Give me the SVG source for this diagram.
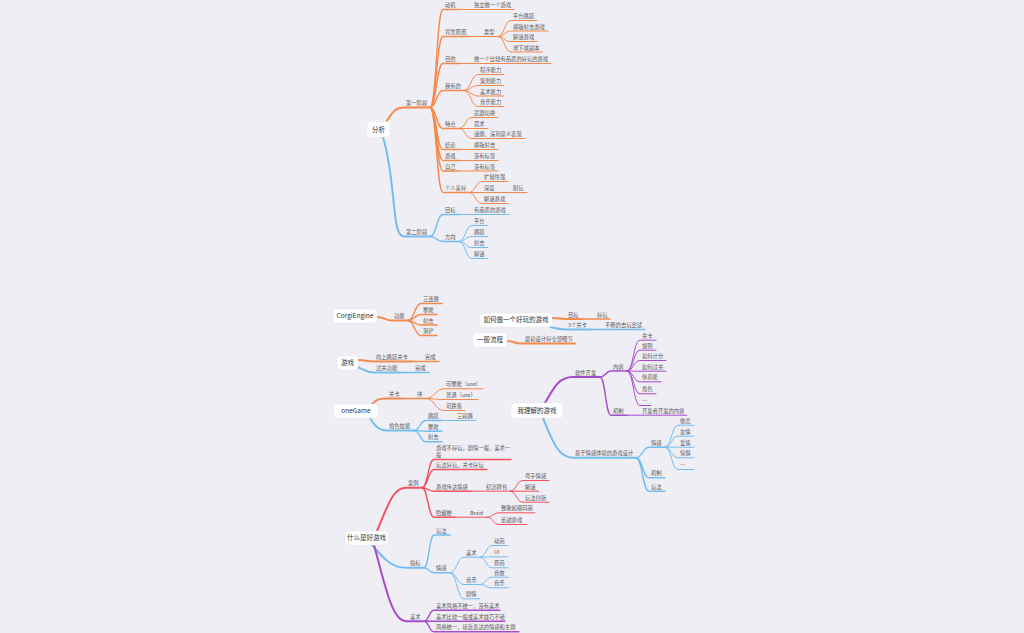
<svg xmlns="http://www.w3.org/2000/svg" width="1024" height="633" viewBox="0 0 1024 633">
<style>
path{fill:none;stroke-linecap:round;stroke-linejoin:round}
.o{stroke:#f5894b}.b{stroke:#72bdf0}.p{stroke:#a44ccb}.r{stroke:#f2535f}
.w1{stroke-width:2}.w2{stroke-width:1.4}.w3{stroke-width:1}
text{font-family:"Noto Sans CJK SC","Noto Sans",sans-serif;font-size:5.3px;fill:#555}
text.n{font-size:6.5px;fill:#333;text-anchor:middle}
rect.box{fill:#fff;stroke:#e4e2ea;stroke-width:0.5}
</style>
<rect width="1024" height="633" fill="#f0eef5"/>
<g id="connectors">
<path class="o w1" d="M386 122C394 110 396 107.5 404 107.5H430"/>
<path class="o w2" d="M430 107.5C436.5 107.5 436.5 9.5 443 9.5H459"/>
<path class="o w2" d="M430 107.5C436.5 107.5 436.5 36.5 443 36.5H469"/>
<path class="o w2" d="M430 107.5C436.5 107.5 436.5 63.5 443 63.5H459"/>
<path class="o w2" d="M430 107.5C436.5 107.5 436.5 90.5 443 90.5H464"/>
<path class="o w2" d="M430 107.5C436.5 107.5 436.5 128.5 443 128.5H459"/>
<path class="o w2" d="M430 107.5C436.5 107.5 436.5 149.5 443 149.5H459"/>
<path class="o w2" d="M430 107.5C436.5 107.5 436.5 160.5 443 160.5H459"/>
<path class="o w2" d="M430 107.5C436.5 107.5 436.5 171 443 171H459"/>
<path class="o w2" d="M430 107.5C436.5 107.5 436.5 192.5 443 192.5H469"/>
<path class="o w3" d="M459 9.5H514"/>
<path class="o w3" d="M469 36.5H498"/>
<path class="o w3" d="M498 36.5C504.5 36.5 504.5 20.5 511 20.5H537"/>
<path class="o w3" d="M498 36.5C504.5 36.5 504.5 31 511 31H548"/>
<path class="o w3" d="M498 36.5C504.5 36.5 504.5 41.5 511 41.5H537"/>
<path class="o w3" d="M498 36.5C504.5 36.5 504.5 52 511 52H542.5"/>
<path class="o w3" d="M459 63.5H551"/>
<path class="o w3" d="M464 90.5C471 90.5 471 74.5 478 74.5H504"/>
<path class="o w3" d="M464 90.5C471 90.5 471 85.5 478 85.5H504"/>
<path class="o w3" d="M464 90.5C471 90.5 471 96 478 96H504"/>
<path class="o w3" d="M464 90.5C471 90.5 471 106.5 478 106.5H504"/>
<path class="o w3" d="M459 128.5C465.5 128.5 465.5 117.5 472 117.5H498"/>
<path class="o w3" d="M459 128.5H488"/>
<path class="o w3" d="M459 128.5C465.5 128.5 465.5 138.5 472 138.5H525"/>
<path class="o w3" d="M459 149.5H498"/>
<path class="o w3" d="M459 160.5H498"/>
<path class="o w3" d="M459 171H498"/>
<path class="o w3" d="M469 192.5C475.5 192.5 475.5 181.5 482 181.5H508"/>
<path class="o w3" d="M469 192.5H527"/>
<path class="o w3" d="M469 192.5C475.5 192.5 475.5 203.5 482 203.5H508"/>
<path class="b w1" d="M383 137C397 185 391 236.5 404 236.5H430"/>
<path class="b w2" d="M430 236.5C436.5 236.5 436.5 214.5 443 214.5H459"/>
<path class="b w2" d="M430 236.5C436.5 236.5 436.5 241.5 443 241.5H459"/>
<path class="b w3" d="M459 214.5H509"/>
<path class="b w3" d="M459 241.5C465.5 241.5 465.5 225.5 472 225.5H488"/>
<path class="b w3" d="M459 241.5C465.5 241.5 465.5 236.5 472 236.5H488"/>
<path class="b w3" d="M459 241.5C465.5 241.5 465.5 247.5 472 247.5H488"/>
<path class="b w3" d="M459 241.5C465.5 241.5 465.5 258.5 472 258.5H488"/>
<path class="o w1" d="M377 317C385 317 385 320.5 392 320.5H408"/>
<path class="o w2" d="M408 320.5C414.5 320.5 414.5 303.5 421 303.5H442"/>
<path class="o w2" d="M408 320.5C414.5 320.5 414.5 314.5 421 314.5H437"/>
<path class="o w2" d="M408 320.5C414.5 320.5 414.5 325 421 325H437"/>
<path class="o w2" d="M408 320.5C414.5 320.5 414.5 335.5 421 335.5H437"/>
<path class="o w1" d="M552 318C560 318 560 319 566 319H582"/>
<path class="o w2" d="M582 319H610"/>
<path class="b w1" d="M550 327C558 329 560 329.5 566 329.5H591"/>
<path class="b w2" d="M591 329.5H645"/>
<path class="o w1" d="M507 341C514 341 514 343.5 521 343.5H575"/>
<path class="o w1" d="M358 360C366 360 366 361.5 374 361.5H411"/>
<path class="o w2" d="M411 361.5H439"/>
<path class="b w1" d="M357 367C366 370 366 372.5 374 372.5H400"/>
<path class="b w2" d="M400 372.5H429"/>
<path class="o w1" d="M372 404C378 398 382 398.5 387 398.5H403"/>
<path class="o w2" d="M403 398.5H426"/>
<path class="o w3" d="M426 398.5C435 398.5 435 388.8 444 388.8H483"/>
<path class="o w3" d="M426 398.5C435 398.5 435 399.5 444 399.5H478"/>
<path class="o w3" d="M426 398.5C435 398.5 435 410.5 444 410.5H465"/>
<path class="b w1" d="M370 418C376 428 380 430.5 387 430.5H414"/>
<path class="b w2" d="M414 430.5C420 430.5 420 420.5 426 420.5H442"/>
<path class="b w2" d="M414 430.5C420 430.5 420 431.2 426 431.2H442"/>
<path class="b w2" d="M414 430.5C420 430.5 420 441.8 426 441.8H442"/>
<path class="b w3" d="M442 420.5H476"/>
<path class="p w1" d="M545 403C555 385 560 377 573 377H600"/>
<path class="p w2" d="M600 377C605.5 377 605.5 371 611 371H627"/>
<path class="p w2" d="M600 377C605.5 377 605.5 415.2 611 415.2H627"/>
<path class="p w3" d="M627 371C633.5 371 633.5 340.2 640 340.2H656"/>
<path class="p w3" d="M627 371C633.5 371 633.5 350.2 640 350.2H656"/>
<path class="p w3" d="M627 371C633.5 371 633.5 360.5 640 360.5H666"/>
<path class="p w3" d="M627 371C633.5 371 633.5 371.2 640 371.2H666"/>
<path class="p w3" d="M627 371C633.5 371 633.5 381.8 640 381.8H661"/>
<path class="p w3" d="M627 371C633.5 371 633.5 393.8 640 393.8H656"/>
<path class="p w3" d="M627 371C633.5 371 633.5 405.5 640 405.5H651"/>
<path class="p w3" d="M627 415.2H687"/>
<path class="b w1" d="M543 418C552 440 558 457.8 573 457.8H636"/>
<path class="b w2" d="M636 457.8C642.5 457.8 642.5 447.2 649 447.2H665"/>
<path class="b w2" d="M636 457.8C642.5 457.8 642.5 477.8 649 477.8H665"/>
<path class="b w2" d="M636 457.8C642.5 457.8 642.5 491.2 649 491.2H665"/>
<path class="b w3" d="M665 447.2C671.5 447.2 671.5 425.2 678 425.2H694"/>
<path class="b w3" d="M665 447.2C671.5 447.2 671.5 436.2 678 436.2H694"/>
<path class="b w3" d="M665 447.2H694"/>
<path class="b w3" d="M665 447.2C671.5 447.2 671.5 457.8 678 457.8H694"/>
<path class="b w3" d="M665 447.2C671.5 447.2 671.5 469.5 678 469.5H694"/>
<path class="r w1" d="M377 531C388 505 393 487.8 406 487.8H422"/>
<path class="r w2" d="M422 487.8C428 487.8 428 459.5 434 459.5H511"/>
<path class="r w2" d="M422 487.8C428 487.8 428 469.5 434 469.5H487"/>
<path class="r w2" d="M422 487.8C428 487.8 428 491.2 434 491.2H471"/>
<path class="r w2" d="M422 487.8C428 487.8 428 517.2 434 517.2H455"/>
<path class="r w3" d="M471 491.2H510"/>
<path class="r w3" d="M510 491.2C516.5 491.2 516.5 480.5 523 480.5H549"/>
<path class="r w3" d="M510 491.2H539"/>
<path class="r w3" d="M510 491.2C516.5 491.2 516.5 502.2 523 502.2H549"/>
<path class="r w3" d="M455 517.2H487"/>
<path class="r w3" d="M487 517.2C493 517.2 493 512.8 499 512.8H535"/>
<path class="r w3" d="M487 517.2C493 517.2 493 524.5 499 524.5H527"/>
<path class="b w1" d="M372 545C385 560 392 567.8 406 567.8H424"/>
<path class="b w2" d="M424 567.8C429 567.8 429 535 434 535H450"/>
<path class="b w2" d="M424 567.8C429 567.8 429 572.8 434 572.8H450"/>
<path class="b w3" d="M450 572.8C457 572.8 457 557.2 464 557.2H480"/>
<path class="b w3" d="M450 572.8C457 572.8 457 584.5 464 584.5H480"/>
<path class="b w3" d="M450 572.8C457 572.8 457 598.8 464 598.8H480"/>
<path class="b w3" d="M480 557.2C486 557.2 486 545.5 492 545.5H508"/>
<path class="b w3" d="M480 557.2C486 557.2 486 556.8 492 556.8H508"/>
<path class="b w3" d="M480 557.2C486 557.2 486 567.8 492 567.8H508"/>
<path class="b w3" d="M480 584.5C486 584.5 486 577.2 492 577.2H508"/>
<path class="b w3" d="M480 584.5C486 584.5 486 587.8 492 587.8H508"/>
<path class="p w1" d="M374 545C385 585 392 621.2 406 621.2H424"/>
<path class="p w2" d="M424 621.2C429 621.2 429 610.2 434 610.2H500"/>
<path class="p w2" d="M424 621.2H505"/>
<path class="p w2" d="M424 621.2C429 621.2 429 631.8 434 631.8H519"/>
</g>
<g id="root-analysis"><rect class="box" x="367" y="121.5" width="23" height="15.5" rx="3"/><text class="n" x="378.5" y="131.8">分析</text></g>
<g id="stage1"><text x="406" y="105">第一阶段</text></g>
<g id="s1-motive"><text x="445" y="7">动机</text></g>
<g id="s1-motive-1"><text x="474" y="7">独立做一个游戏</text></g>
<g id="s1-bg"><text x="445" y="34">背景原因</text></g>
<g id="s1-type"><text x="484" y="34">类型</text></g>
<g id="s1-type-1"><text x="513" y="18">平台跳跃</text></g>
<g id="s1-type-2"><text x="513" y="28.5">横版射击游戏</text></g>
<g id="s1-type-3"><text x="513" y="39">解谜游戏</text></g>
<g id="s1-type-4"><text x="513" y="49.5">地下城副本</text></g>
<g id="s1-goal"><text x="445" y="61">目的</text></g>
<g id="s1-goal-1"><text x="474" y="61">做一个比较有品质的好玩的游戏</text></g>
<g id="s1-have"><text x="445" y="88">我有的</text></g>
<g id="s1-have-1"><text x="480" y="72">程序能力</text></g>
<g id="s1-have-2"><text x="480" y="83">策划能力</text></g>
<g id="s1-have-3"><text x="480" y="93.5">美术能力</text></g>
<g id="s1-have-4"><text x="480" y="104">音乐能力</text></g>
<g id="s1-feat"><text x="445" y="126">特点</text></g>
<g id="s1-feat-1"><text x="474" y="115">武器切换</text></g>
<g id="s1-feat-2"><text x="474" y="126">忍术</text></g>
<g id="s1-feat-3"><text x="474" y="136">谜题、深刻意义表现</text></g>
<g id="s1-concl"><text x="445" y="147">结论</text></g>
<g id="s1-concl-1"><text x="474" y="147">横版射击</text></g>
<g id="s1-game"><text x="445" y="158">游戏</text></g>
<g id="s1-game-1"><text x="474" y="158">没有标签</text></g>
<g id="s1-self"><text x="445" y="168.5">自己</text></g>
<g id="s1-self-1"><text x="474" y="168.5">没有标签</text></g>
<g id="s1-pref"><text x="445" y="190">个人喜好</text></g>
<g id="s1-pref-1"><text x="484" y="179">扩展性强</text></g>
<g id="s1-pref-2"><text x="484" y="190">深度</text></g>
<g id="s1-pref-2a"><text x="513" y="190">耐玩</text></g>
<g id="s1-pref-3"><text x="484" y="201">解谜游戏</text></g>
<g id="stage2"><text x="406" y="234">第二阶段</text></g>
<g id="s2-goal"><text x="445" y="212">目标</text></g>
<g id="s2-goal-1"><text x="474" y="212">有品质的游戏</text></g>
<g id="s2-dir"><text x="445" y="239">方向</text></g>
<g id="s2-dir-1"><text x="474" y="223">平台</text></g>
<g id="s2-dir-2"><text x="474" y="234">跳跃</text></g>
<g id="s2-dir-3"><text x="474" y="245">射击</text></g>
<g id="s2-dir-4"><text x="474" y="256">解谜</text></g>
<g id="corgi"><rect class="box" x="333" y="309" width="44" height="14" rx="3"/><text class="n" x="355" y="318.2">CorgiEngine</text></g>
<g id="corgi-func"><text x="394" y="318">功能</text></g>
<g id="corgi-1"><text x="423" y="301">三连跳</text></g>
<g id="corgi-2"><text x="423" y="312">攀爬</text></g>
<g id="corgi-3"><text x="423" y="322.5">射击</text></g>
<g id="corgi-4"><text x="423" y="333">滑铲</text></g>
<g id="howto"><rect class="box" x="480" y="313" width="72" height="14" rx="3"/><text class="n" x="516" y="322.3">如何做一个好玩的游戏</text></g>
<g id="howto-goal"><text x="568" y="316.5">目标</text></g>
<g id="howto-goal-1"><text x="597" y="316.5">好玩</text></g>
<g id="howto-lv"><text x="568" y="327">3个关卡</text></g>
<g id="howto-lv-1"><text x="605" y="327">不断的去玩尝试</text></g>
<g id="flow"><rect class="box" x="473" y="333" width="34" height="14" rx="3"/><text class="n" x="490" y="342.3">一般流程</text></g>
<g id="flow-1"><text x="525" y="341">最初设计好全部细节</text></g>
<g id="game"><rect class="box" x="337" y="356" width="21" height="14" rx="3"/><text class="n" x="347.5" y="365.3">游戏</text></g>
<g id="game-1"><text x="376" y="359">向上跳跃关卡</text></g>
<g id="game-1a"><text x="425" y="359">完成</text></g>
<g id="game-2"><text x="376" y="370">过关功能</text></g>
<g id="game-2a"><text x="415" y="370">完成</text></g>
<g id="onegame"><rect class="box" x="334" y="404" width="44" height="14" rx="3"/><text class="n" x="356" y="413.3">oneGame</text></g>
<g id="og-level"><text x="389" y="396">关卡</text></g>
<g id="og-block"><text x="417" y="396">块</text></g>
<g id="og-block-1"><text x="446" y="386.3">可攀爬（use）</text></g>
<g id="og-block-2"><text x="446" y="397">普通（use）</text></g>
<g id="og-block-3"><text x="446" y="408">可跌落</text></g>
<g id="og-skill"><text x="389" y="428">角色技能</text></g>
<g id="og-skill-1"><text x="428" y="418">跳跃</text></g>
<g id="og-skill-1a"><text x="457" y="418">三段跳</text></g>
<g id="og-skill-2"><text x="428" y="428.7">攀爬</text></g>
<g id="og-skill-3"><text x="428" y="439.3">射击</text></g>
<g id="mygame"><rect class="box" x="511" y="403" width="52" height="15" rx="3"/><text class="n" x="537" y="412.8">我理解的游戏</text></g>
<g id="mg-dev"><text x="575" y="374.7">软件开发</text></g>
<g id="mg-content"><text x="613" y="368.7">内容</text></g>
<g id="mg-c1"><text x="642" y="337.7">关卡</text></g>
<g id="mg-c2"><text x="642" y="347.7">规则</text></g>
<g id="mg-c3"><text x="642" y="358">如何计分</text></g>
<g id="mg-c4"><text x="642" y="368.7">如何过关</text></g>
<g id="mg-c5"><text x="642" y="379.3">休养能</text></g>
<g id="mg-c6"><text x="642" y="391.3">角色</text></g>
<g id="mg-c7"><text x="642" y="403">…</text></g>
<g id="mg-mech"><text x="613" y="412.7">机制</text></g>
<g id="mg-mech-1"><text x="642" y="412.7">开发者开发的内容</text></g>
<g id="mg-emo"><text x="575" y="455.3">基于情感体验的游戏设计</text></g>
<g id="mg-emo-e"><text x="651" y="444.7">情感</text></g>
<g id="mg-e1"><text x="680" y="422.7">依恋</text></g>
<g id="mg-e2"><text x="680" y="433.7">友情</text></g>
<g id="mg-e3"><text x="680" y="444.7">爱情</text></g>
<g id="mg-e4"><text x="680" y="455.3">惊惧</text></g>
<g id="mg-e5"><text x="680" y="467">…</text></g>
<g id="mg-emo-m"><text x="651" y="475.3">机制</text></g>
<g id="mg-emo-p"><text x="651" y="488.7">玩法</text></g>
<g id="goodgame"><rect class="box" x="345" y="531" width="43" height="14" rx="3"/><text class="n" x="366.5" y="540.3">什么是好游戏</text></g>
<g id="gg-case"><text x="408" y="485.3">案例</text></g>
<g id="gg-case-1"><text x="436" y="449.7">游戏不好玩，剧情一般，美术一</text><text x="436" y="457">般</text></g>
<g id="gg-case-2"><text x="436" y="467">玩法好玩，关卡好玩</text></g>
<g id="gg-case-3"><text x="436" y="488.7">游戏传达情感</text></g>
<g id="gg-mnv"><text x="486" y="488.7">纪念碑谷</text></g>
<g id="gg-mnv-1"><text x="525" y="478">母子情感</text></g>
<g id="gg-mnv-2"><text x="525" y="488.7">解谜</text></g>
<g id="gg-mnv-3"><text x="525" y="499.7">玩法创新</text></g>
<g id="gg-case-4"><text x="436" y="514.7">隐藏梗</text></g>
<g id="gg-braid"><text x="470" y="514.7">Braid</text></g>
<g id="gg-braid-1"><text x="501" y="510.3">致敬超级玛丽</text></g>
<g id="gg-braid-2"><text x="501" y="522">反战游戏</text></g>
<g id="gg-idx"><text x="410" y="565.3">指标</text></g>
<g id="gg-idx-1"><text x="436" y="532.5">玩法</text></g>
<g id="gg-idx-2"><text x="436" y="570.3">情感</text></g>
<g id="gg-art"><text x="466" y="554.7">美术</text></g>
<g id="gg-art-1"><text x="494" y="543">动画</text></g>
<g id="gg-art-2"><text x="494" y="554.3">UI</text></g>
<g id="gg-art-3"><text x="494" y="565.3">原画</text></g>
<g id="gg-music"><text x="466" y="582">音乐</text></g>
<g id="gg-music-1"><text x="494" y="574.7">音效</text></g>
<g id="gg-music-2"><text x="494" y="585.3">音乐</text></g>
<g id="gg-story"><text x="466" y="596.3">剧情</text></g>
<g id="gg-arts"><text x="410" y="618.7">美术</text></g>
<g id="gg-arts-1"><text x="436" y="607.7">美术风格不统一，没有美术</text></g>
<g id="gg-arts-2"><text x="436" y="618.7">美术比较一般或美术技巧不错</text></g>
<g id="gg-arts-3"><text x="436" y="629.3">风格统一，接近表达的情感和主题</text></g>
</svg>
